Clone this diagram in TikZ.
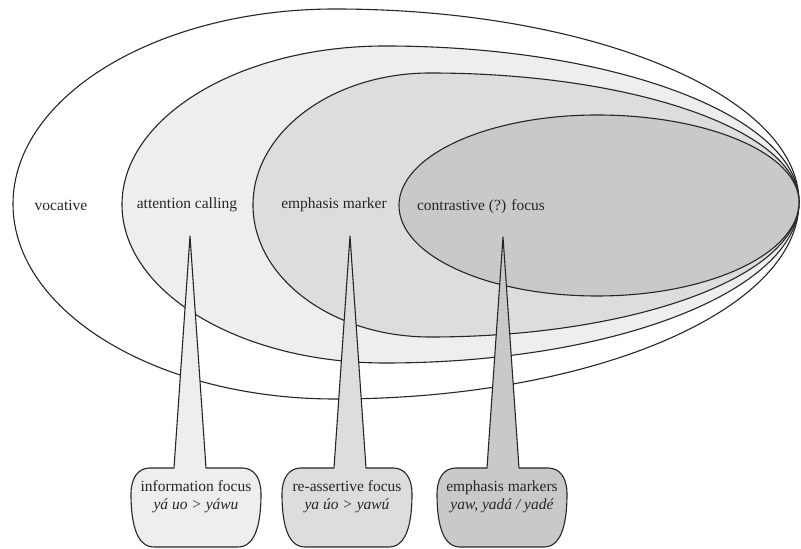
\documentclass[tikz,border=0pt]{standalone}
\usepackage{fontspec}
\setmainfont{Liberation Serif}
\definecolor{fillA}{gray}{0.935}
\definecolor{fillB}{gray}{0.865}
\definecolor{fillC}{gray}{0.79}
\newcommand\eggshape[5]{% #1 fill, #2 x left, #3 x of top, #4 y top, #5 y bottom
  \pgfmathsetmacro\ycen{(#4+#5)/2}%
  \filldraw[eggline,fill=#1] (#2,\ycen)
    .. controls (#2,{\ycen+0.5523*(#4-\ycen)}) and ({#3-0.5523*(#3-#2)},#4) .. (#3,#4)
    .. controls ({#3+0.5523*(799-#3)},#4) and (799,{347+0.5523*(#4-347)}) .. (799,347)
    .. controls (799,{347-0.5523*(347-#5)}) and ({#3+0.5523*(799-#3)},#5) .. (#3,#5)
    .. controls ({#3-0.5523*(#3-#2)},#5) and (#2,{\ycen-0.5523*(\ycen-#5)}) .. cycle;}
\newcommand\calloutshape[4]{% #1 box centre x, #2 tip x, #3 tip y, #4 fill
  \filldraw[eggline,fill=#4] ({#2-16},81) -- (#2,#3) -- ({#2+16},81) -- ({#1+46},81)
    .. controls ({#1+58},81) and ({#1+65},71) .. ({#1+65},55)
    .. controls ({#1+65},30) and ({#1+61},2) .. ({#1+42},2) -- ({#1-42},2)
    .. controls ({#1-61},2) and ({#1-65},30) .. ({#1-65},55)
    .. controls ({#1-65},71) and ({#1-58},81) .. ({#1-46},81) -- cycle;}
\begin{document}
\begin{tikzpicture}[x=1pt,y=1pt,
  eggline/.style={draw=black!85,line width=1.1pt,line join=round},
  lbl/.style={inner sep=0pt,font=\fontsize{15.5}{18}\selectfont,text=black!85},
  boxtxt/.style={inner sep=0pt,align=center,font=\fontsize{15.5}{18}\selectfont,text=black!85}]
\useasboundingbox (0,0) rectangle (801,549);
\eggshape{white}{13}{335}{540}{150}
\eggshape{fillA}{122}{385}{503}{186}
\eggshape{fillB}{253}{430}{476}{212}
\eggshape{fillC}{399}{597}{434}{253}
\node[lbl] (voc) at (61,344) {vocative};
\node[lbl] (att) at (187,344) {attention calling};
\node[lbl] (emph) at (334,344) {emphasis marker};
\node[lbl] (contr) at (481,342) {contrastive (?) focus};
\calloutshape{196}{190}{313}{fillA}
\calloutshape{347}{350}{313}{fillB}
\calloutshape{502}{503}{312}{fillC}
\node[boxtxt] (info) at (196,52) {information focus\\\itshape yá uo > yáwu};
\node[boxtxt] (reas) at (347,52) {re-assertive focus\\\itshape ya úo > yawú};
\node[boxtxt] (markers) at (502,52) {emphasis markers\\\itshape yaw, yadá / yadé};
\end{tikzpicture}
\end{document}
